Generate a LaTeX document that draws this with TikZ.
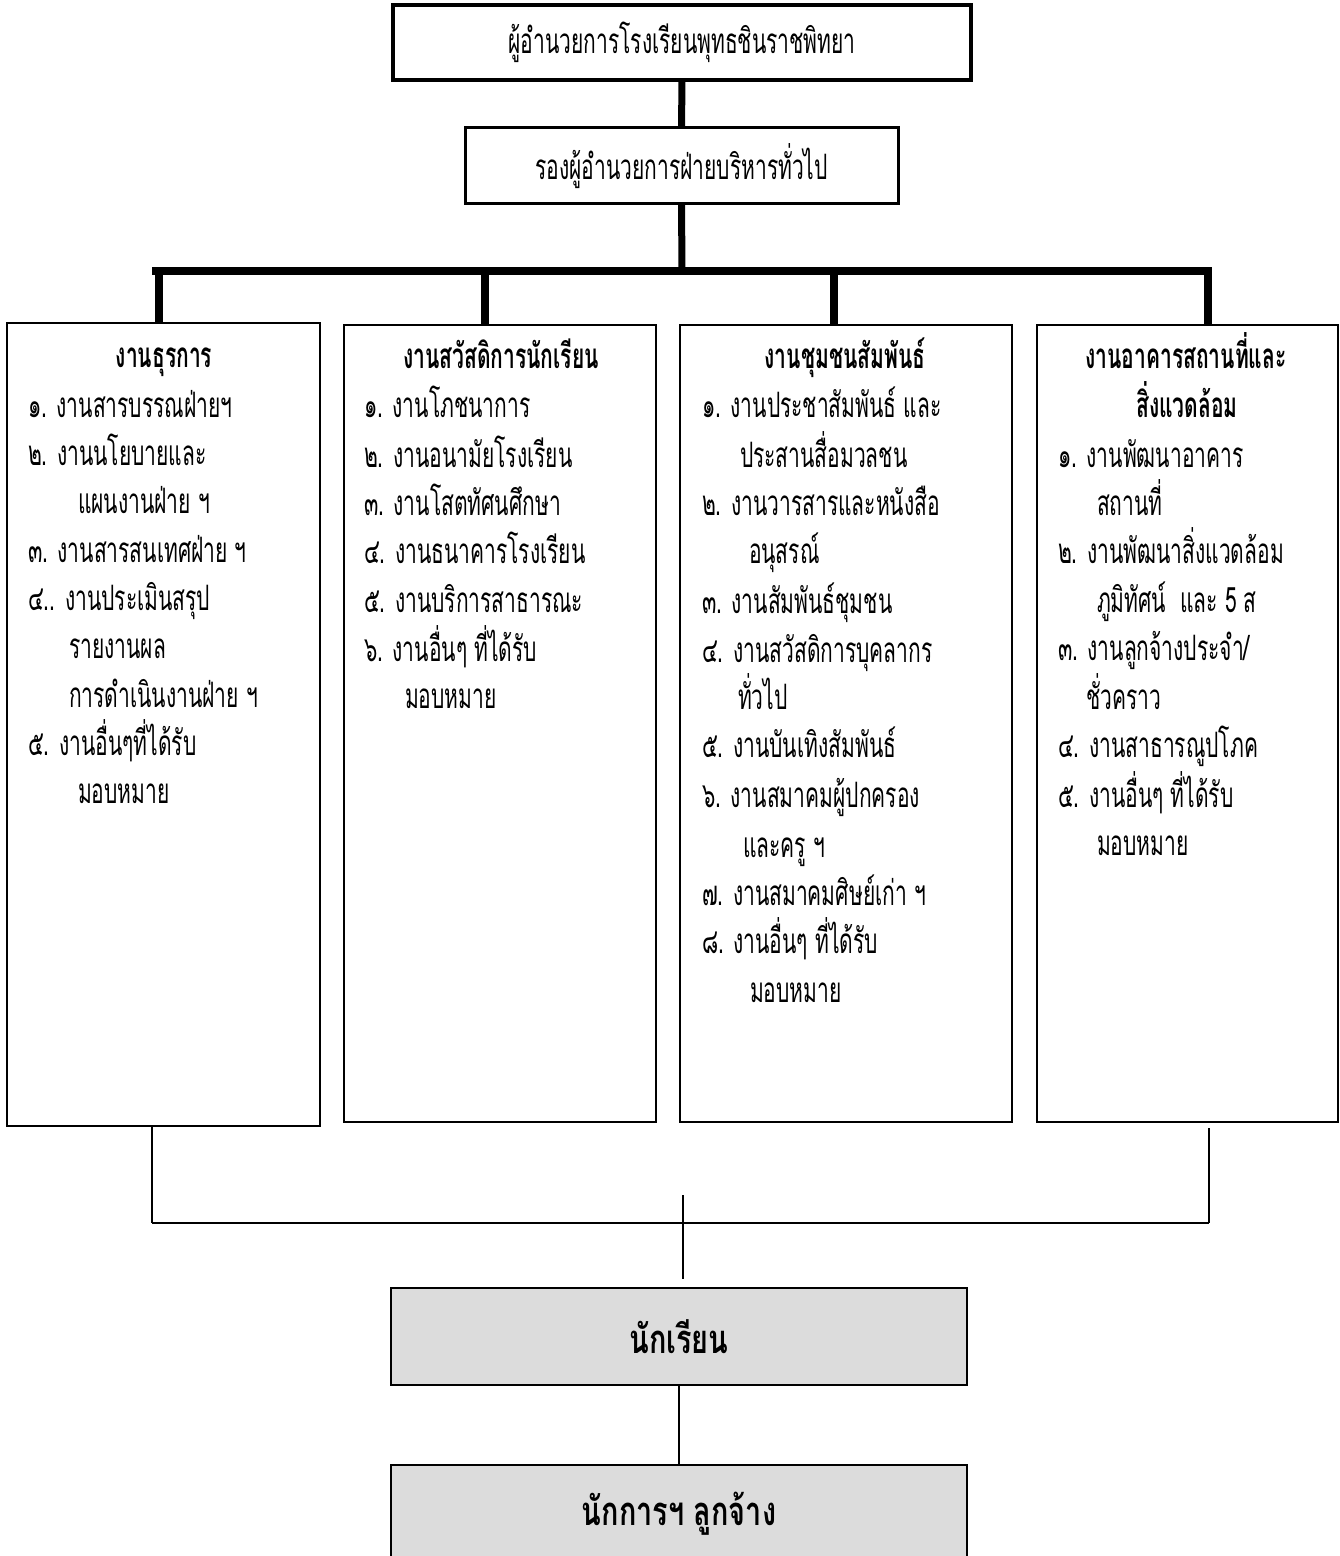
\documentclass[tikz,border=0pt]{standalone}
\usepackage{fontspec}
\newfontfamily\thai[Script=Thai,FakeStretch=0.6]{Loma}
\newfontfamily\thaiwide[Script=Thai,FakeStretch=0.72]{Loma}
\definecolor{boxgray}{RGB}{220,220,220}

\begin{document}
\begin{tikzpicture}[x=0.5pt,y=-0.5pt,
  every node/.style={inner sep=0pt, outer sep=0pt},
  body/.style={font=\thai\fontsize{17.5}{21}\selectfont},
  item/.style={body, anchor=base west},
  head/.style={anchor=base, font=\thai\bfseries\fontsize{17.5}{21}\selectfont},
  topbox/.style={draw, line width=2.4pt, minimum width=289pt, minimum height=37.5pt, body},
  subbox/.style={draw, line width=1.5pt, minimum width=216.5pt, minimum height=38pt, body},
  colbox/.style={draw, line width=1pt, minimum height=398.5pt},
  greybox/.style={draw, line width=1pt, fill=boxgray, minimum width=288pt, minimum height=48.5pt,
    font=\thaiwide\bfseries\fontsize{20}{24}\selectfont},
  thick link/.style={line width=3.5pt},
  bar/.style={line width=4pt},
  thin link/.style={line width=1pt},
  base link/.style={line width=1.25pt}
]
\useasboundingbox (0,0) rectangle (1339,1556);
\clip (0,0) rectangle (1339,1556);

% management
\node[topbox] (boss) at (682,42.5) {ผู้อำนวยการโรงเรียนพุทธชินราชพิทยา};
\node[subbox] (deputy) at (681.5,166) {รองผู้อำนวยการฝ่ายบริหารทั่วไป};

% the four work groups
\node[colbox, minimum width=156.5pt, minimum height=401.5pt] (col1) at (163.5,724.5) {};
\node[colbox, minimum width=156pt] (col2) at (500,723.5) {};
\node[colbox, minimum width=166pt] (col3) at (846,723.5) {};
\node[colbox, minimum width=150.5pt] (col4) at (1187.5,723.5) {};

% students and staff
\node[greybox] (students) at (679,1336.5) {นักเรียน};
\node[greybox] (staff) at (679,1513.5) {นักการฯ ลูกจ้าง};

% branching bar
\coordinate (barL) at (152,271);
\coordinate (barR) at (1212,271);
\coordinate (barM) at (682,271);
\coordinate (d1) at (159,271);
\coordinate (d2) at (485,271);
\coordinate (d3) at (834,271);
\coordinate (d4) at (1208,271);

\draw[thick link] (boss.south) -- (deputy.north);
\draw[thick link] (deputy.south) -- (barM);
\draw[bar] (barL) -- (barR);
\draw[bar] (d1) -- (d1 |- col1.north);
\draw[bar] (d2) -- (d2 |- col2.north);
\draw[bar] (d3) -- (d3 |- col3.north);
\draw[bar] (d4) -- (d4 |- col4.north);

% lower joining lines
\coordinate (j1) at (152,1223);
\coordinate (j2) at (1209,1223);
\coordinate (j2top) at (1209,1128);
\coordinate (mtop) at (683,1195);
\coordinate (mbot) at (683,1279);
\draw[thin link] (j1 |- col1.south) -- (j1);
\draw[base link] (j1) -- (j2);
\draw[thin link] (j2) -- (j2top);
\draw[thin link] (mtop) -- (mbot);
\draw[thin link] (students.south) -- (staff.north);

% column 1
\node[head] (h1) at (164,367) {งานธุรการ};
\node[item] (a1) at (28,417) {๑. งานสารบรรณฝ่ายฯ};
\node[item] (a2) at (28,465) {๒. งานนโยบายและ};
\node[item] (a2b) at (78,513) {แผนงานฝ่าย ฯ};
\node[item] (a3) at (28,562) {๓. งานสารสนเทศฝ่าย ฯ};
\node[item] (a4) at (28,610) {๔.. งานประเมินสรุป};
\node[item] (a4b) at (69,658) {รายงานผล};
\node[item] (a4c) at (69,707) {การดำเนินงานฝ่าย ฯ};
\node[item] (a5) at (28,755) {๕. งานอื่นๆที่ได้รับ};
\node[item] (a5b) at (78,803) {มอบหมาย};

% column 2
\node[head] (h2) at (501,368) {งานสวัสดิการนักเรียน};
\node[item] (b1) at (364,417) {๑. งานโภชนาการ};
\node[item] (b2) at (364,467) {๒. งานอนามัยโรงเรียน};
\node[item] (b3) at (364,515) {๓. งานโสตทัศนศึกษา};
\node[item] (b4) at (364,563) {๔. งานธนาคารโรงเรียน};
\node[item] (b5) at (364,612) {๕. งานบริการสาธารณะ};
\node[item] (b6) at (364,661) {๖. งานอื่นๆ ที่ได้รับ};
\node[item] (b6b) at (405,708) {มอบหมาย};

% column 3
\node[head] (h3) at (845,368) {งานชุมชนสัมพันธ์};
\node[item] (c1) at (702,417) {๑. งานประชาสัมพันธ์ และ};
\node[item] (c1b) at (740,467) {ประสานสื่อมวลชน};
\node[item] (c2) at (702,515) {๒. งานวารสารและหนังสือ};
\node[item] (c2b) at (749,563) {อนุสรณ์};
\node[item] (c3) at (702,613) {๓. งานสัมพันธ์ชุมชน};
\node[item] (c4) at (702,662) {๔. งานสวัสดิการบุคลากร};
\node[item] (c4b) at (738,709) {ทั่วไป};
\node[item] (c5) at (702,757) {๕. งานบันเทิงสัมพันธ์};
\node[item] (c6) at (702,807) {๖. งานสมาคมผู้ปกครอง};
\node[item] (c6b) at (743,857) {และครู ฯ};
\node[item] (c7) at (702,905) {๗. งานสมาคมศิษย์เก่า ฯ};
\node[item] (c8) at (702,953) {๘. งานอื่นๆ ที่ได้รับ};
\node[item] (c8b) at (750,1002) {มอบหมาย};

% column 4
\node[head] (h4) at (1186,368) {งานอาคารสถานที่และ};
\node[head] (h4b) at (1187,417) {สิ่งแวดล้อม};
\node[item] (e1) at (1058,467) {๑. งานพัฒนาอาคาร};
\node[item] (e1b) at (1097,515) {สถานที่};
\node[item] (e2) at (1058,563) {๒. งานพัฒนาสิ่งแวดล้อม};
\node[item] (e2b) at (1097,612) {ภูมิทัศน์\ \ และ 5 ส};
\node[item] (e3) at (1058,660) {๓. งานลูกจ้างประจำ/};
\node[item] (e3b) at (1086,709) {ชั่วคราว};
\node[item] (e4) at (1058,757) {๔. งานสาธารณูปโภค};
\node[item] (e5) at (1058,807) {๕. งานอื่นๆ ที่ได้รับ};
\node[item] (e5b) at (1097,855) {มอบหมาย};
\end{tikzpicture}
\end{document}
